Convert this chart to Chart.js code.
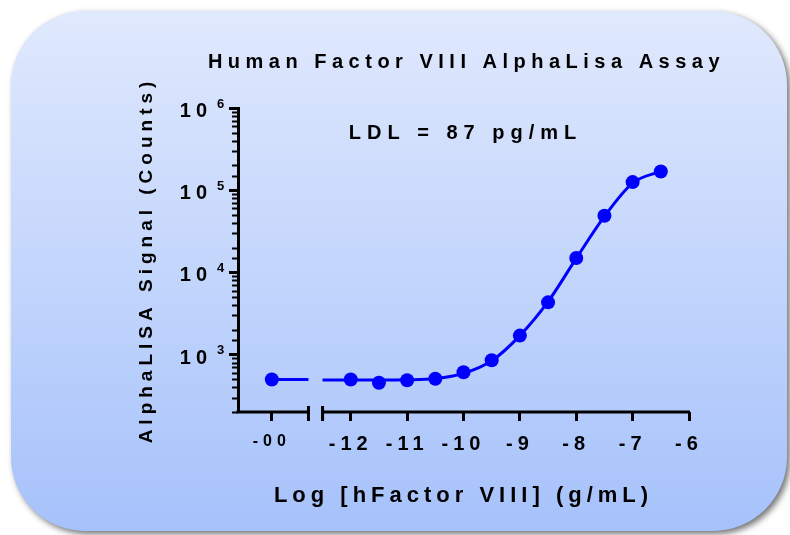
<!DOCTYPE html>
<html>
<head>
<meta charset="utf-8">
<script src="https://cdn.jsdelivr.net/npm/chart.js@4.4.1/dist/chart.umd.min.js"></script>
<style>
  html, body { margin: 0; padding: 0; background: #fff; }
</style>
</head>
<body>
<canvas id="chart" width="790" height="535"></canvas>
<script>
const FONT = '"Liberation Sans", Arial, sans-serif';
const BLUE = '#0000ff';
const TITLE = 'Human Factor VIII AlphaLisa Assay';
const NOTE = 'LDL = 87 pg/mL';

// x positions of the "-00" (blank) segment and the axis break
const NEG_INF_X = -13.4;
const BREAK_LEFT = -12.75;
const BREAK_RIGHT = -12.5;
const X_TICKS = [NEG_INF_X, -12, -11, -10, -9, -8, -7, -6];
const Y_DECADES = [3, 4, 5, 6];

const BLANK_SIGNAL = 497;
const LOG_CONC = [-12, -11.5, -11, -10.5, -10, -9.5, -9, -8.5, -8, -7.5, -7, -6.5];
const SIGNAL = [497, 453, 487, 507, 610, 853, 1700, 4320, 14960, 48900, 125400, 168600];

// fitted curve
const FIT_X = [-12.5, -12, -11.5, -11, -10.5, -10, -9.5, -9, -8.5, -8, -7.5, -7, -6.5];
const FIT_Y = [490, 490, 490, 493, 510, 590, 840, 1700, 4400, 14800, 48000, 122000, 170000];

const isDecade = (v) => Math.abs(Math.log10(v) - Math.round(Math.log10(v))) < 1e-6;

function roundRect(ctx, x, y, w, h, r) {
  ctx.beginPath();
  ctx.moveTo(x + r, y);
  ctx.arcTo(x + w, y, x + w, y + h, r);
  ctx.arcTo(x + w, y + h, x, y + h, r);
  ctx.arcTo(x, y + h, x, y, r);
  ctx.arcTo(x, y, x + w, y, r);
  ctx.closePath();
}

const decor = {
  id: 'decor',
  beforeDraw(chart) {
    const { ctx } = chart;
    ctx.save();
    roundRect(ctx, 11, 11, 776, 520, 74);
    const g = ctx.createLinearGradient(0, 11, 0, 531);
    g.addColorStop(0, '#e0e9fd');
    g.addColorStop(1, '#a6c2fb');
    ctx.shadowColor = 'rgba(0,0,0,0.55)';
    ctx.shadowBlur = 6;
    ctx.shadowOffsetX = 3;
    ctx.shadowOffsetY = 3;
    ctx.fillStyle = g;
    ctx.fill();
    ctx.restore();
    ctx.letterSpacing = '5px';
  },
  afterDraw(chart) {
    const { ctx, chartArea: a } = chart;
    const xs = chart.scales.x, ys = chart.scales.y;
    const cx = (a.left + a.right) / 2;
    ctx.save();
    ctx.letterSpacing = '0px';
    ctx.strokeStyle = '#000';
    ctx.lineWidth = 3;
    // broken x axis
    const bl = xs.getPixelForValue(BREAK_LEFT), br = xs.getPixelForValue(BREAK_RIGHT);
    ctx.beginPath();
    ctx.moveTo(a.left - 1.5, a.bottom); ctx.lineTo(bl, a.bottom);
    ctx.moveTo(br, a.bottom); ctx.lineTo(a.right + 1, a.bottom);
    ctx.moveTo(bl, a.bottom - 6); ctx.lineTo(bl, a.bottom + 9);
    ctx.moveTo(br, a.bottom - 6); ctx.lineTo(br, a.bottom + 9);
    ctx.stroke();
    // minor y ticks
    ctx.lineWidth = 2;
    ctx.beginPath();
    ys.ticks.forEach((t) => {
      if (isDecade(t.value)) return;
      const y = Math.round(ys.getPixelForValue(t.value)) + 0.5;
      ctx.moveTo(a.left - 6, y); ctx.lineTo(a.left, y);
    });
    ctx.stroke();
    // y decade labels with superscript
    ctx.fillStyle = '#000';
    ctx.textBaseline = 'middle';
    Y_DECADES.forEach((e) => {
      const y = ys.getPixelForValue(10 ** e);
      ctx.letterSpacing = '5px';
      ctx.font = `bold 20px ${FONT}`;
      ctx.textAlign = 'right';
      ctx.fillText('10', a.left - 26, y + 3.5);
      ctx.letterSpacing = '0px';
      ctx.font = `bold 13px ${FONT}`;
      ctx.textAlign = 'left';
      ctx.fillText(String(e), a.left - 21, y - 4);
    });
    ctx.textAlign = 'center';
    // title
    ctx.letterSpacing = '5.5px';
    ctx.font = `bold 20px ${FONT}`;
    ctx.fillText(TITLE, cx + 3, a.top - 46);
    // LDL annotation
    ctx.letterSpacing = '6px';
    ctx.font = `bold 20px ${FONT}`;
    ctx.fillText(NOTE, cx + 2, a.top + 25);
    ctx.restore();
  }
};

new Chart(document.getElementById('chart'), {
  type: 'scatter',
  data: {
    datasets: [
      {
        label: 'blank line',
        data: [{ x: NEG_INF_X, y: BLANK_SIGNAL }, { x: BREAK_LEFT, y: BLANK_SIGNAL }],
        showLine: true, pointRadius: 0, borderColor: BLUE, borderWidth: 3
      },
      {
        label: 'fit',
        data: FIT_X.map((x, i) => ({ x, y: FIT_Y[i] })),
        showLine: true, pointRadius: 0, borderColor: BLUE, borderWidth: 3,
        cubicInterpolationMode: 'monotone'
      },
      {
        label: 'hFVIII',
        data: [{ x: NEG_INF_X, y: BLANK_SIGNAL }].concat(LOG_CONC.map((x, i) => ({ x, y: SIGNAL[i] }))),
        pointRadius: 7, pointBackgroundColor: BLUE, pointBorderWidth: 0, backgroundColor: BLUE
      }
    ]
  },
  options: {
    responsive: false,
    animation: false,
    layout: { padding: { left: 131, right: 101, top: 108, bottom: 22 } },
    plugins: {
      legend: { display: false },
      tooltip: { enabled: false },
      title: { display: false }
    },
    scales: {
      x: {
        type: 'linear',
        min: -14,
        max: -6,
        afterBuildTicks: (s) => { s.ticks = X_TICKS.map((v) => ({ value: v })); },
        afterFit: (s) => { s.height = 101; },
        border: { display: false },
        grid: { drawOnChartArea: false, tickLength: 9, tickWidth: 3, tickColor: '#000' },
        ticks: {
          color: '#000',
          autoSkip: false,
          maxRotation: 0,
          padding: 11,
          font: (c) => ({ family: FONT, weight: 'bold', size: c.tick && c.tick.value === NEG_INF_X ? 16 : 20 }),
          callback: (v) => (v === NEG_INF_X ? '-00' : String(v))
        },
        title: {
          display: true,
          text: 'Log [hFactor VIII] (g/mL)',
          color: '#000',
          font: { family: FONT, size: 22, weight: 'bold' },
          padding: { top: 4, bottom: 4 }
        }
      },
      y: {
        type: 'logarithmic',
        min: 200,
        max: 1000000,
        afterFit: (s) => { s.width = 107; },
        border: { display: true, color: '#000', width: 3 },
        grid: {
          drawOnChartArea: false,
          tickLength: 9,
          tickWidth: 3,
          tickColor: (c) => (c.tick && isDecade(c.tick.value) ? '#000' : 'rgba(0,0,0,0)')
        },
        ticks: { display: false },
        title: {
          display: true,
          text: 'AlphaLISA Signal (Counts)',
          color: '#000',
          font: { family: FONT, size: 19, weight: 'bold' },
          padding: { top: 4, bottom: 4 }
        }
      }
    }
  },
  plugins: [decor]
});
</script>
</body>
</html>
